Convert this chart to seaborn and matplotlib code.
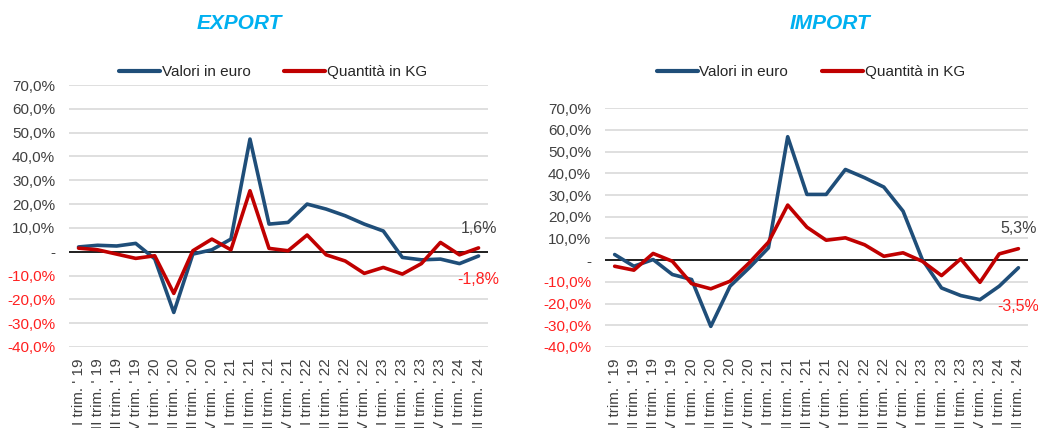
import pandas as pd
import matplotlib
matplotlib.use("Agg")
import matplotlib.pyplot as plt
import seaborn as sns

# ── data ────────────────────────────────────────────────────────────────────
quarters = [f"{q} trim. ' {y}" for y in ["19", "20", "21", "22", "23"]
            for q in ["I", "II", "III", "IV"]] + ["I trim. ' 24", "II trim. ' 24"]

export_valori = [2.0, 2.7, 2.4, 3.5, -3.0, -25.5, -1.0, 0.8, 5.3, 47.3, 11.6,
                 12.3, 20.0, 17.9, 15.1, 11.6, 8.7, -2.4, -3.4, -3.1, -5.0, -1.8]
export_kg = [1.5, 0.8, -1.0, -2.8, -1.7, -17.5, 0.4, 5.3, 0.8, 25.6, 1.4,
             0.4, 7.0, -1.3, -3.9, -9.1, -6.6, -9.4, -5.0, 3.9, -1.3, 1.6]

import_valori = [2.6, -2.8, 0.3, -6.6, -8.9, -30.5, -12.0, -3.5, 5.7, 56.9, 30.3,
                 30.3, 41.8, 38.0, 33.7, 22.6, 0.3, -12.8, -16.3, -18.2, -12.0, -3.5]
import_kg = [-2.8, -4.6, 3.1, -0.5, -10.8, -13.2, -9.7, -1.2, 8.3, 25.4, 15.2,
             9.2, 10.3, 7.1, 1.8, 3.4, -0.5, -7.1, 0.6, -10.2, 2.9, 5.3]

series_names = ["Valori in euro", "Quantità in KG"]
yticks = list(range(-40, 80, 10))

BLUE = "#1f4e79"
RED = "#c00000"
TICK_RED = "#ff2020"
GREY = "#404040"
TITLE_BLUE = "#00b0f0"


def long_form(valori, kg):
    n = len(quarters)
    return pd.DataFrame({
        "pos": list(range(n)) * 2,
        "value": valori + kg,
        "serie": [series_names[0]] * n + [series_names[1]] * n,
    })


def fmt_tick(v):
    if v == 0:
        return "-"
    return f"{v:.1f}%".replace(".", ",")


sns.set_theme(style="white")
plt.rcParams["font.family"] = ["Liberation Sans", "DejaVu Sans"]

fig = plt.figure(figsize=(10.38, 4.28), dpi=100)
ax_exp = fig.add_axes([0.0665, 0.1893, 0.4037, 0.6121])
ax_imp = fig.add_axes([0.5829, 0.1893, 0.4075, 0.5577])

# axis, values, qty, title, title x, legend x, offset of the lower end label
panels = [
    (ax_exp, export_valori, export_kg, "EXPORT", 0.231, 0.263, -20),
    (ax_imp, import_valori, import_kg, "IMPORT", 0.800, 0.781, -31),
]

for ax, valori, kg, title, title_x, leg_x, low_off in panels:
    df = long_form(valori, kg)
    sns.lineplot(data=df, x="pos", y="value", hue="serie", hue_order=series_names,
                 palette=[BLUE, RED], linewidth=2.6, ax=ax, legend=False)

    ax.set_xlim(-0.5, len(quarters) - 0.5)
    ax.set_ylim(-40, 70)
    ax.set_yticks(yticks)
    ax.set_yticklabels([fmt_tick(v) for v in yticks], fontsize=11)
    for lab, v in zip(ax.get_yticklabels(), yticks):
        lab.set_color(TICK_RED if v < 0 else GREY)
    ax.set_xticks(range(len(quarters)))
    # labels run past the bottom edge, as in the original
    ax.set_xticklabels(quarters, rotation=90, fontsize=11, color=GREY, va="top")
    ax.tick_params(axis="y", length=0, pad=10)
    ax.tick_params(axis="x", length=0, pad=8)
    ax.grid(axis="y", color="#d9d9d9", linewidth=1.2)
    ax.axhline(0, color="black", linewidth=1.2, zorder=1)
    for s in ax.spines.values():
        s.set_visible(False)
    ax.set_xlabel("")
    ax.set_ylabel("")

    # end-point labels
    last = len(quarters) - 1
    ax.annotate(fmt_tick(kg[-1]), (last, kg[-1]), xytext=(0, 11),
                textcoords="offset points", ha="center", fontsize=11.5, color=GREY)
    ax.annotate(fmt_tick(valori[-1]), (last, valori[-1]), xytext=(0, low_off),
                textcoords="offset points", ha="center", fontsize=11.5, color=TICK_RED)

    handles = [plt.Line2D([], [], color=c, linewidth=3) for c in [BLUE, RED]]
    fig.legend(handles, series_names, loc="center", bbox_to_anchor=(leg_x, 0.832),
               ncol=2, frameon=False, fontsize=11, handlelength=2.7,
               handletextpad=0.1, columnspacing=2.2)

    fig.text(title_x, 0.945, title, ha="center", va="center", fontsize=15,
             fontweight="bold", fontstyle="italic", color=TITLE_BLUE)

fig.savefig("out.png", dpi=100)
